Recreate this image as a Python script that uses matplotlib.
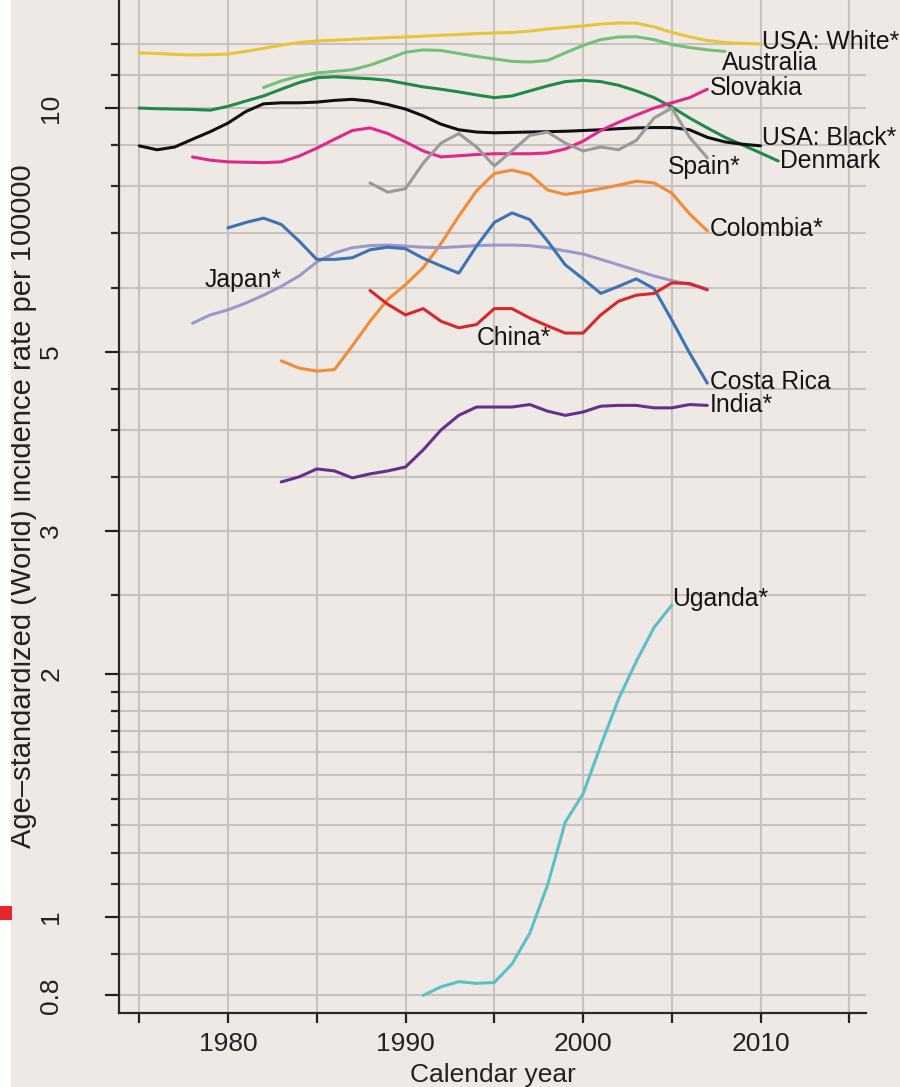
import matplotlib
matplotlib.use('Agg')
import matplotlib.pyplot as plt
from matplotlib.ticker import NullFormatter
from matplotlib.patches import Rectangle

plt.rcParams['font.family'] = ['Liberation Sans', 'DejaVu Sans']

# --- data: first year of each series and its yearly rates per 100000 ---
usa_white_start = 1975
usa_white = [11.7, 11.68, 11.65, 11.63, 11.64, 11.66, 11.75, 11.85, 11.96, 12.05,
             12.1, 12.13, 12.16, 12.19, 12.22, 12.24, 12.27, 12.3, 12.33, 12.36,
             12.38, 12.4, 12.45, 12.52, 12.58, 12.63, 12.7, 12.74, 12.73, 12.6,
             12.4, 12.25, 12.12, 12.05, 12.02, 12.0]

australia_start = 1982
australia = [10.6, 10.8, 10.95, 11.05, 11.1, 11.15, 11.3, 11.5, 11.72, 11.8,
             11.78, 11.68, 11.58, 11.5, 11.42, 11.4, 11.45, 11.7, 11.95, 12.15,
             12.24, 12.25, 12.15, 11.98, 11.88, 11.8, 11.75]

denmark_start = 1975
denmark = [10.0, 9.98, 9.97, 9.96, 9.94, 10.05, 10.2, 10.35, 10.55, 10.75,
           10.9, 10.93, 10.9, 10.87, 10.82, 10.72, 10.62, 10.55, 10.47, 10.38,
           10.3, 10.35, 10.5, 10.65, 10.78, 10.82, 10.78, 10.67, 10.5, 10.3,
           10.03, 9.72, 9.45, 9.2, 9.0, 8.8, 8.6]

usa_black_start = 1975
usa_black = [8.98, 8.88, 8.95, 9.15, 9.35, 9.58, 9.9, 10.12, 10.15, 10.15,
             10.17, 10.22, 10.25, 10.2, 10.1, 9.97, 9.78, 9.55, 9.4, 9.34,
             9.32, 9.33, 9.34, 9.35, 9.36, 9.38, 9.4, 9.43, 9.45, 9.46,
             9.46, 9.4, 9.2, 9.08, 9.02, 8.98]

slovakia_start = 1978
slovakia = [8.7, 8.62, 8.58, 8.57, 8.56, 8.58, 8.72, 8.92, 9.15, 9.38,
            9.45, 9.3, 9.08, 8.85, 8.7, 8.73, 8.76, 8.78, 8.78, 8.78,
            8.8, 8.9, 9.1, 9.38, 9.6, 9.8, 10.0, 10.15, 10.3, 10.55]

spain_start = 1988
spain = [8.08, 7.87, 7.95, 8.55, 9.05, 9.3, 8.95, 8.48, 8.85, 9.25,
         9.34, 9.05, 8.85, 8.95, 8.88, 9.12, 9.72, 10.0, 9.2, 8.68]

colombia_start = 1983
colombia = [4.87, 4.77, 4.73, 4.75, 5.08, 5.45, 5.8, 6.05, 6.35, 6.8,
            7.35, 7.9, 8.3, 8.38, 8.28, 7.92, 7.82, 7.88, 7.95, 8.03,
            8.12, 8.08, 7.85, 7.4, 7.05]

costa_rica_start = 1980
costa_rica = [7.11, 7.22, 7.31, 7.18, 6.85, 6.5, 6.5, 6.53, 6.68, 6.73,
              6.7, 6.52, 6.38, 6.25, 6.75, 7.22, 7.42, 7.28, 6.85, 6.4,
              6.15, 5.9, 6.02, 6.15, 5.98, 5.47, 4.98, 4.57]

japan_start = 1978
japan = [5.42, 5.55, 5.63, 5.74, 5.87, 6.02, 6.2, 6.45, 6.62, 6.72,
         6.76, 6.77, 6.75, 6.73, 6.72, 6.74, 6.76, 6.77, 6.77, 6.76,
         6.72, 6.66, 6.6, 6.5, 6.4, 6.3, 6.2, 6.12, 6.05, 5.98]

china_start = 1988
china = [5.95, 5.72, 5.55, 5.65, 5.45, 5.35, 5.4, 5.65, 5.65, 5.5,
         5.38, 5.27, 5.27, 5.55, 5.77, 5.87, 5.9, 6.08, 6.07, 5.96]

india_start = 1983
india = [3.45, 3.5, 3.58, 3.56, 3.49, 3.53, 3.56, 3.6, 3.78, 4.0,
         4.17, 4.27, 4.27, 4.27, 4.3, 4.22, 4.17, 4.21, 4.28, 4.29,
         4.29, 4.26, 4.26, 4.3, 4.29]

uganda_start = 1991
uganda = [0.80, 0.82, 0.832, 0.828, 0.83, 0.875, 0.955, 1.095, 1.31, 1.42,
          1.63, 1.86, 2.07, 2.28, 2.43]

y_major = [0.8, 1, 2, 3, 5, 10]
y_major_labels = ['0.8', '1', '2', '3', '5', '10']
y_minor = [0.9, 1.1, 1.2, 1.3, 1.4, 1.5, 1.6, 1.7, 1.8, 1.9, 2.5, 3.5, 4, 4.5,
           6, 7, 8, 9, 11, 12]
x_major = [1980, 1990, 2000, 2010]
x_minor = [1975, 1985, 1995, 2005, 2015]

# name, start, values, colour, label anchor (year, rate)
series = [
    ('USA: White*', usa_white_start, usa_white, '#e8c43a', (2010.1, 12.07)),
    ('Australia', australia_start, australia, '#74c077', (2007.8, 11.38)),
    ('Denmark', denmark_start, denmark, '#1f8b47', (2011.1, 8.6)),
    ('USA: Black*', usa_black_start, usa_black, '#111111', (2010.1, 9.17)),
    ('Slovakia', slovakia_start, slovakia, '#e0288a', (2007.15, 10.59)),
    ('Spain*', spain_start, spain, '#9a9a9a', (2004.8, 8.45)),
    ('Colombia*', colombia_start, colombia, '#f28c34', (2007.15, 7.09)),
    ('Japan*', japan_start, japan, '#9c98cc', (1978.7, 6.13)),
    ('Costa Rica', costa_rica_start, costa_rica, '#3b73b5', (2007.15, 4.59)),
    ('China*', china_start, china, '#d9262a', (1994.0, 5.20)),
    ('India*', india_start, india, '#6a2d8f', (2007.15, 4.30)),
    ('Uganda*', uganda_start, uganda, '#5bbfc6', (2005.0, 2.47)),
]

bg = '#efe9e6'
fig = plt.figure(figsize=(9, 10.87), dpi=100, facecolor=bg)
ax = fig.add_axes([119 / 900, 74 / 1087, 747 / 900, 1013 / 1087])
ax.set_facecolor(bg)

for name, start, vals, col, (lx, ly) in series:
    years = list(range(start, start + len(vals)))
    ax.plot(years, vals, color=col, lw=2.2, solid_capstyle='round', zorder=3)
    ax.text(lx, ly, name, ha='left', va='center', fontsize=17.8,
            color='#151515', zorder=4)

ax.set_yscale('log')
ax.set_xlim(1973.86, 2015.94)
ax.set_ylim(0.761, 13.6)

ax.set_yticks(y_major)
ax.set_yticklabels(y_major_labels)
ax.set_yticks(y_minor, minor=True)
ax.yaxis.set_minor_formatter(NullFormatter())
ax.set_xticks(x_major)
ax.set_xticks(x_minor, minor=True)
ax.xaxis.set_minor_formatter(NullFormatter())

ax.grid(which='both', color='#c8c2bf', lw=1.5, zorder=0)
ax.set_axisbelow(True)

for side in ['top', 'right']:
    ax.spines[side].set_visible(False)
for side in ['left', 'bottom']:
    ax.spines[side].set_linewidth(1.6)
    ax.spines[side].set_color('#2a2a2a')

ax.tick_params(axis='y', which='major', length=10, width=1.6, pad=30,
               labelsize=19, colors='#222222')
ax.tick_params(axis='y', which='minor', length=5.5, width=1.6, colors='#2a2a2a')
ax.tick_params(axis='x', which='both', length=7.5, width=1.6, pad=6,
               labelsize=19, colors='#222222')
plt.setp(ax.get_yticklabels(), rotation=90, va='center', ha='right')

ax.set_xlabel('Calendar year', fontsize=19, color='#222222', va='center')
ax.xaxis.set_label_coords(0.5, -0.061)
ax.set_ylabel('Age\u2013standardized (World) incidence rate per 100000',
              fontsize=21, color='#222222', va='center')
ax.yaxis.set_label_coords(-0.1285, 0.5)

# white strip and red mark on the left edge of the scan
fig.patches.append(Rectangle((0, 0), 11 / 900, 1, transform=fig.transFigure,
                             facecolor='white', edgecolor='none'))
fig.patches.append(Rectangle((0, (1087 - 920) / 1087), 12 / 900, 14 / 1087,
                             transform=fig.transFigure, facecolor='#e8262a',
                             edgecolor='none'))

fig.savefig('out.png', dpi=100, facecolor=bg)
